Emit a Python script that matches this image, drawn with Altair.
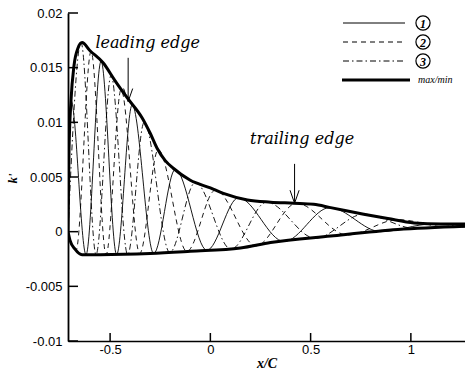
import altair as alt
import pandas as pd

# ---- envelope (max / min) ----
env_max_x = [-0.71, -0.705, -0.695, -0.68, -0.66, -0.64, -0.60, -0.535, -0.475, -0.415, -0.34, -0.30,
             -0.265, -0.225, -0.185, -0.10, 0.0, 0.065, 0.185, 0.30, 0.415, 0.515, 0.60, 0.765,
             0.885, 1.015, 1.15, 1.27]
env_max_y = [0.0, 0.0074, 0.0120, 0.0152, 0.0168, 0.0173, 0.01655, 0.01545, 0.0138, 0.01225, 0.0104, 0.0090,
             0.0076, 0.0065, 0.0058, 0.0047, 0.0040, 0.0035, 0.0029, 0.0027, 0.0026, 0.0025, 0.0022, 0.0016,
             0.0012, 0.0008, 0.0007, 0.0007]
env_min_x = [-0.71, -0.70, -0.675, -0.64, -0.55, -0.30, -0.10, 0.15, 0.30, 0.60, 0.935, 1.27]
env_min_y = [0.0, -0.0008, -0.0016, -0.0021, -0.0021, -0.0020, -0.0018, -0.0015, -0.0010, -0.0004, 0.0002, 0.0005]

# ---- curve 1 (solid) extrema ----
c1_x = [-0.71, -0.695, -0.62, -0.545, -0.4675, -0.39, -0.2825, -0.175, -0.0175, 0.14, 0.3675, 0.595, 0.85, 1.105, 1.36]
c1_y = [0.0, 0.0120, -0.0021, 0.0156, -0.0021, 0.0116, -0.0020, 0.0057, -0.0017, 0.0031, -0.0009, 0.0022, 0.0000, 0.0007, 0.0005]
# ---- curve 2 (dashed) extrema ----
c2_x = [-0.71, -0.67, -0.595, -0.52, -0.445, -0.3525, -0.26, -0.1175, 0.025, 0.2275, 0.43, 0.6825, 0.935, 1.19, 1.445]
c2_y = [0.0, -0.0017, 0.0165, -0.0021, 0.0130, -0.0020, 0.0075, -0.0018, 0.0038, -0.0013, 0.0026, -0.0003, 0.0011, 0.0004, 0.0007]
# ---- curve 3 (dash-dot) extrema ----
c3_x = [-0.71, -0.645, -0.57, -0.495, -0.4125, -0.33, -0.2025, -0.075, 0.1025, 0.28, 0.5225, 0.765, 1.02, 1.275]
c3_y = [0.0, 0.0173, -0.0021, 0.0143, -0.0021, 0.0100, -0.0019, 0.0045, -0.0016, 0.0027, -0.0006, 0.0016, 0.0003, 0.0007]

x_ticks = [-0.5, 0, 0.5, 1]
y_ticks = [-0.01, -0.005, 0, 0.005, 0.01, 0.015, 0.02]

ann_text = ["leading edge", "trailing edge"]
ann_x = [-0.3125, 0.4575]
ann_y = [0.0168, 0.0080]
arrow_x = [-0.41, 0.42]
arrow_top = [0.0159, 0.0062]
arrow_tip = [0.0119, 0.0026]

legend_nums = ["1", "2", "3"]

W, H = 397, 328

xs = alt.Scale(domain=[-0.71, 1.27], nice=False, zero=False)
ys = alt.Scale(domain=[-0.01, 0.02], nice=False, zero=False)

x_axis = alt.Axis(values=x_ticks, ticks=False, grid=False, domainColor="black", domainWidth=1.6,
                  labelExpr="'' + datum.value", labelFont="Liberation Sans", labelFontSize=13,
                  labelColor="black", labelPadding=2, labelFlush=False,
                  title="x/C", titleFont="Liberation Serif", titleFontStyle="italic",
                  titleFontWeight="bold", titleFontSize=14, titleColor="black",
                  titleY=22, titleBaseline="middle")
y_axis = alt.Axis(values=y_ticks, ticks=False, grid=False, domainColor="black", domainWidth=1.8,
                  labelExpr="'' + datum.value", labelFont="Liberation Sans", labelFontSize=13,
                  labelColor="black", labelPadding=6, labelFlush=False,
                  title="k'", titleFont="Liberation Serif", titleFontStyle="italic",
                  titleFontWeight="bold", titleFontSize=13, titleColor="black",
                  titleAngle=270, titleX=-56, titleY=165, titleBaseline="middle")


def xy(xv, yv):
    return pd.DataFrame({"x": xv, "y": yv})


def curve(xv, yv, dash, width=0.9):
    kw = dict(color="black", strokeWidth=width, interpolate="monotone", clip=True)
    if dash:
        kw["strokeDash"] = dash
    return alt.Chart(xy(xv, yv)).mark_line(**kw).encode(
        x=alt.X("x:Q", scale=xs, axis=x_axis),
        y=alt.Y("y:Q", scale=ys, axis=y_axis),
    )


DASH = [5, 4]
DASHDOT = [6, 3, 1.5, 3]

layers = [
    curve(c1_x, c1_y, None),
    curve(c2_x, c2_y, DASH),
    curve(c3_x, c3_y, DASHDOT),
    curve(env_max_x, env_max_y, None, 3),
    curve(env_min_x, env_min_y, None, 3),
]

# inward ticks
xt = alt.Chart(pd.DataFrame({"x": x_ticks})).mark_rule(color="black", strokeWidth=1.5).encode(
    x=alt.X("x:Q", scale=xs, axis=x_axis), y=alt.value(H), y2=alt.value(H - 8))
yt = alt.Chart(pd.DataFrame({"y": y_ticks})).mark_rule(color="black", strokeWidth=1.5).encode(
    y=alt.Y("y:Q", scale=ys, axis=y_axis), x=alt.value(0), x2=alt.value(10))
layers += [xt, yt]

# annotations
ann = pd.DataFrame({"x": ann_x, "y": ann_y, "t": ann_text})
layers.append(alt.Chart(ann).mark_text(font="DejaVu Serif", fontStyle="italic", fontSize=16,
                                       color="black", baseline="alphabetic").encode(
    x=alt.X("x:Q", scale=xs, axis=x_axis), y=alt.Y("y:Q", scale=ys, axis=y_axis), text="t:N"))
arr = pd.DataFrame({"x": arrow_x, "y": arrow_top, "y2": arrow_tip})
layers.append(alt.Chart(arr).mark_rule(color="black", strokeWidth=1).encode(
    x=alt.X("x:Q", scale=xs, axis=x_axis), y=alt.Y("y:Q", scale=ys, axis=y_axis), y2="y2:Q"))
layers.append(alt.Chart(arr).mark_point(shape="M -0.35 -1 L 0 0 L 0.35 -1", size=676, filled=False,
                                        color="black", strokeWidth=1, opacity=1).encode(
    x=alt.X("x:Q", scale=xs, axis=x_axis), y=alt.Y("y2:Q", scale=ys, axis=y_axis)))

# manual legend
one = pd.DataFrame({"a": [0]})
rows_y = [10, 29, 48, 67]
dashes = [None, DASH, DASHDOT]
for i in range(3):
    kw = dict(color="black", strokeWidth=1)
    if dashes[i]:
        kw["strokeDash"] = dashes[i]
    layers.append(alt.Chart(one).mark_rule(**kw).encode(
        x=alt.value(275), x2=alt.value(337), y=alt.value(rows_y[i])))
    layers.append(alt.Chart(one).mark_point(shape="circle", size=200, filled=False, color="black",
                                            strokeWidth=1.2, opacity=1).encode(
        x=alt.value(355), y=alt.value(rows_y[i])))
    layers.append(alt.Chart(one).mark_text(font="Liberation Serif", fontStyle="italic", fontWeight="bold",
                                           fontSize=12, color="black", baseline="middle").encode(
        x=alt.value(355), y=alt.value(rows_y[i] + 0.5), text=alt.value(legend_nums[i])))
layers.append(alt.Chart(one).mark_rule(color="black", strokeWidth=3).encode(
    x=alt.value(274), x2=alt.value(342), y=alt.value(rows_y[3])))
layers.append(alt.Chart(one).mark_text(font="Liberation Serif", fontStyle="italic", fontSize=10,
                                       color="black", baseline="middle", align="left").encode(
    x=alt.value(350), y=alt.value(rows_y[3]), text=alt.value("max/min")))

chart = alt.layer(*layers).properties(
    width=W, height=H,
    autosize=alt.AutoSizeParams(type="none"),
    padding={"left": 68, "top": 13, "right": 0, "bottom": 31},
    background="white",
).configure_view(stroke=None)

chart.save("out.html", embed_options={"renderer": "svg", "actions": False})
